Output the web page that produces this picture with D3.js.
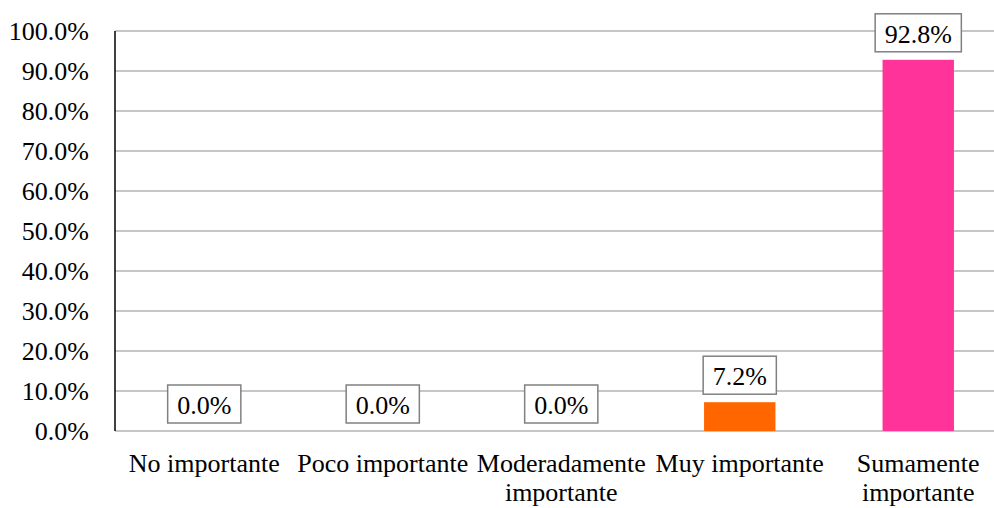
<!DOCTYPE html>
<html><head><meta charset="utf-8">
<script src="https://cdn.jsdelivr.net/npm/d3@7"></script>
<style>body{margin:0;background:#fff}svg{display:block}text{font-family:"Liberation Serif","Times New Roman",serif;fill:#000}</style>
</head><body>
<svg id="c" width="994" height="508"></svg>
<script>
const categories = [["No importante"],["Poco importante"],["Moderadamente","importante"],["Muy importante"],["Sumamente","importante"]];
const values = [0.0, 0.0, 0.0, 7.2, 92.8];
const colors = ["#FF6600","#FF6600","#FF6600","#FF6600","#FF3399"];
const yTicks = [0,10,20,30,40,50,60,70,80,90,100];

const svg = d3.select("#c");
const fs = 26;
const x = d3.scaleBand().domain(d3.range(categories.length)).range([115, 1007.5]).padding(0);
const y = d3.scaleLinear().domain([0,100]).range([431, 31]);

// gridlines
svg.append("g").selectAll("line").data(yTicks).join("line")
  .attr("x1",115).attr("x2",994).attr("y1",d=>y(d)).attr("y2",d=>y(d))
  .attr("stroke","#b3b3b3").attr("stroke-width",1.5);

// y tick labels
svg.append("g").selectAll("text").data(yTicks).join("text")
  .attr("x",89).attr("y",d=>y(d)).attr("dy","0.35em").attr("text-anchor","end")
  .attr("font-size",fs).text(d=>d.toFixed(1)+"%");

// bars
const bw = x.bandwidth()*0.4;
svg.append("g").selectAll("rect").data(values).join("rect")
  .attr("x",(d,i)=>x(i)+x.bandwidth()/2-bw/2).attr("width",bw)
  .attr("y",d=>y(d)).attr("height",d=>y(0)-y(d))
  .attr("fill",(d,i)=>colors[i]);

// left axis line
svg.append("line").attr("x1",115).attr("x2",115).attr("y1",y(100)).attr("y2",y(0))
  .attr("stroke","#000").attr("stroke-width",1.5);

// data labels with boxes
const lg = svg.append("g").selectAll("g").data(values).join("g");
lg.each(function(d,i){
  const g = d3.select(this);
  const cx = x(i)+x.bandwidth()/2;
  const t = g.append("text").attr("x",cx).attr("text-anchor","middle").attr("font-size",fs).text(d.toFixed(1)+"%");
  const w = t.node().getComputedTextLength();
  const bottom = y(d)-8, h=38;
  t.attr("y", bottom - h/2 + 10);
  g.insert("rect","text").attr("x",cx-w/2-9.5).attr("width",w+19).attr("y",bottom-h).attr("height",h)
    .attr("fill","#fff").attr("stroke","#808080").attr("stroke-width",1.5);
});

// category labels
svg.append("g").selectAll("text").data(categories).join("text")
  .attr("x",(d,i)=>x(i)+x.bandwidth()/2).attr("y",472).attr("text-anchor","middle").attr("font-size",fs)
  .each(function(d){
    const t=d3.select(this);
    d.forEach((s,k)=>t.append("tspan").attr("x",t.attr("x")).attr("dy",k?28.5:0).text(s));
  });
</script>
</body></html>
